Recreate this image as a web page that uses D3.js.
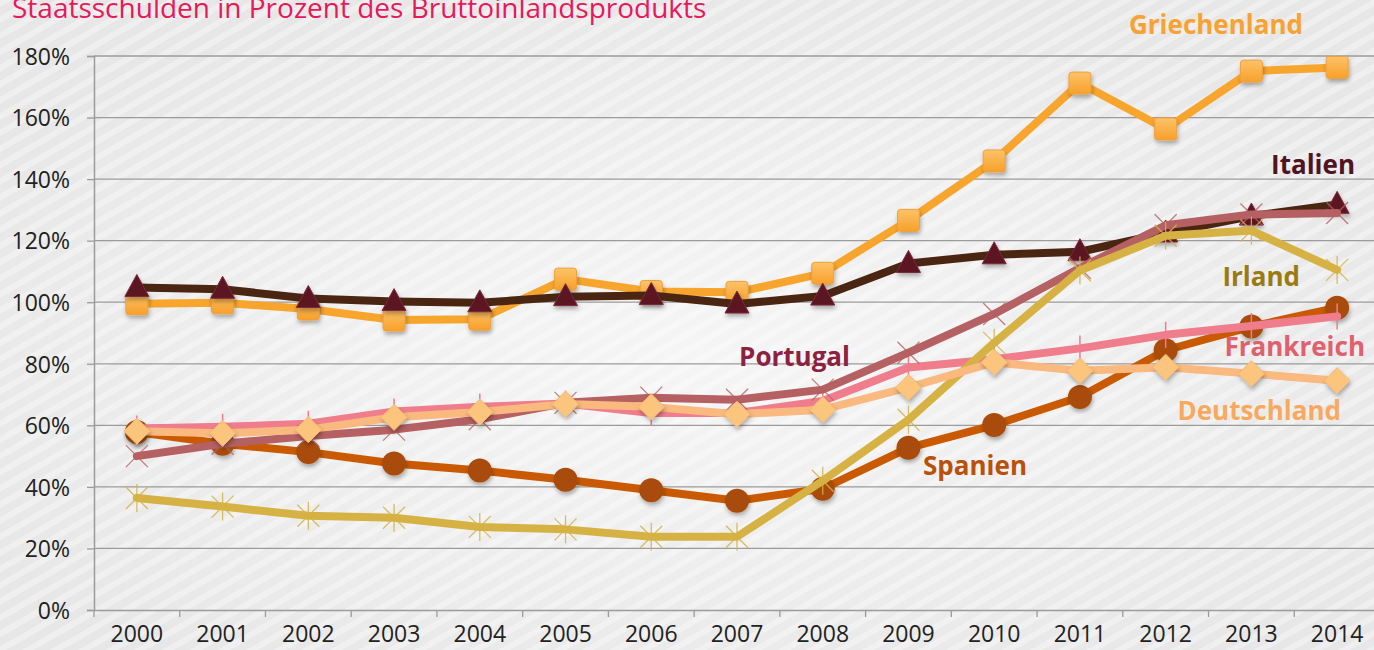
<!DOCTYPE html>
<html>
<head>
<meta charset="utf-8">
<script src="https://cdn.jsdelivr.net/npm/d3@7"></script>
<style>
  html, body { margin: 0; padding: 0; background: #e9e9e9; }
  svg { display: block; }
</style>
</head>
<body>
<svg id="chart" width="1374" height="650"></svg>
<script>
(function(){

var years = ["2000","2001","2002","2003","2004","2005","2006","2007","2008","2009","2010","2011","2012","2013","2014"];
var yTicks = [0, 20, 40, 60, 80, 100, 120, 140, 160, 180];

var griechenland = [99.5, 99.8, 97.8, 94.2, 94.5, 107.5, 103.5, 103.2, 109.4, 126.6, 145.9, 171.2, 156.3, 175.1, 176.3];
var italien      = [104.8, 104.2, 101.2, 100.2, 99.8, 101.8, 102.2, 99.4, 102.0, 112.6, 115.4, 116.4, 122.5, 128.0, 131.8];
var portugal     = [50.0, 54.0, 56.5, 58.6, 62.0, 67.3, 69.0, 68.3, 71.6, 83.6, 96.2, 111.1, 125.0, 128.5, 129.0];
var irland       = [36.4, 33.6, 30.6, 30.0, 27.0, 26.2, 23.8, 23.8, 42.0, 61.8, 86.8, 110.3, 121.6, 123.3, 110.5];
var spanien      = [57.8, 54.0, 51.3, 47.6, 45.3, 42.3, 38.9, 35.5, 39.4, 52.7, 60.1, 69.2, 84.4, 92.1, 98.2];
var frankreich   = [59.0, 59.5, 60.5, 64.5, 66.0, 67.1, 64.0, 64.0, 67.9, 78.8, 81.5, 85.0, 89.4, 92.3, 95.4];
var deutschland  = [58.1, 57.4, 58.6, 62.6, 64.3, 66.9, 66.0, 63.6, 65.1, 72.3, 80.5, 77.7, 78.9, 76.8, 74.5];

var series = [
	{ name: "Griechenland", values: griechenland, line: "#f8a52e", fill: "#fbb040", marker: "square" },
	{ name: "Italien", values: italien, line: "#4a2612", fill: "#5c1424", marker: "triangle" },
	{ name: "Spanien", values: spanien, line: "#c95a02", fill: "#a94b07", marker: "circle" },
	{ name: "Frankreich", values: frankreich, line: "#ef7d8c", fill: "#ef7d8c", marker: "plus" },
	{ name: "Portugal", values: portugal, line: "#b56062", fill: "#b56062", marker: "cross" },
	{ name: "Irland", values: irland, line: "#d6b244", fill: "#d6b244", marker: "star" },
	{ name: "Deutschland", values: deutschland, line: "#f9b97f", fill: "#fcc57e", marker: "diamond" }
];

var labels = [
	{ text: "Griechenland", x: 1303, y: 34, color: "#f8a233" },
	{ text: "Italien", x: 1355, y: 174, color: "#4f1420" },
	{ text: "Irland", x: 1300, y: 286, color: "#9a7a12" },
	{ text: "Portugal", x: 850, y: 366, color: "#8c2240" },
	{ text: "Frankreich", x: 1365, y: 356, color: "#e0606e" },
	{ text: "Deutschland", x: 1341, y: 420, color: "#f9a95e" },
	{ text: "Spanien", x: 1027, y: 475, color: "#b9510a" }
];

var svg = d3.select("#chart");
var W = 1374, H = 650;
var margin = { left: 94, top: 56, right: -6, bottom: 40 };

var defs = svg.append("defs");

var pat = defs.append("pattern")
	.attr("id", "stripes")
	.attr("patternUnits", "userSpaceOnUse")
	.attr("width", 14).attr("height", 14)
	.attr("patternTransform", "rotate(-30)");
pat.append("rect").attr("width", 14).attr("height", 14).attr("fill", "#e7e7e7");
pat.append("rect").attr("width", 14).attr("height", 6).attr("fill", "#efefef");

var glow = defs.append("radialGradient").attr("id", "glow")
	.attr("cx", "50%").attr("cy", "55%").attr("r", "60%");
glow.append("stop").attr("offset", "0%").attr("stop-color", "#ffffff").attr("stop-opacity", 0.6);
glow.append("stop").attr("offset", "100%").attr("stop-color", "#ffffff").attr("stop-opacity", 0);

var shadow = defs.append("filter").attr("id", "shadow")
	.attr("x", "-50%").attr("y", "-50%").attr("width", "200%").attr("height", "200%");
shadow.append("feDropShadow").attr("dx", 1).attr("dy", 3).attr("stdDeviation", 2)
	.attr("flood-color", "#000").attr("flood-opacity", 0.3);

var sqGrad = defs.append("linearGradient").attr("id", "sqGrad").attr("x1", 0).attr("y1", 0).attr("x2", 0).attr("y2", 1);
sqGrad.append("stop").attr("offset", "0%").attr("stop-color", "#fdc36a");
sqGrad.append("stop").attr("offset", "100%").attr("stop-color", "#f7a02a");

svg.append("rect").attr("width", W).attr("height", H).attr("fill", "url(#stripes)");
svg.append("rect").attr("width", W).attr("height", H).attr("fill", "url(#glow)");

var x = d3.scaleBand().domain(years).range([margin.left, W - margin.right]).padding(0);
var y = d3.scaleLinear().domain([0, 180]).range([H - margin.bottom, margin.top]);

// title (cut at the top edge as in the original slide)
svg.append("text")
	.attr("x", 12).attr("y", 18)
	.attr("font-family", "Open Sans, sans-serif")
	.attr("font-size", 28)
	.attr("fill", "#e8185a")
	.text("Staatsschulden in Prozent des Bruttoinlandsprodukts");

// gridlines
svg.append("g").selectAll("line").data(yTicks.slice(1)).enter().append("line")
	.attr("x1", margin.left).attr("x2", W)
	.attr("y1", function(d){ return y(d); }).attr("y2", function(d){ return y(d); })
	.attr("stroke", "#9b9b9b").attr("stroke-width", 1.3);

// y axis
var yAxis = svg.append("g")
	.attr("transform", "translate(" + margin.left + ",0)")
	.call(d3.axisLeft(y).tickValues(yTicks).tickSize(7).tickPadding(17).tickFormat(function(d){ return d + "%"; }));
yAxis.select(".domain").attr("stroke", "#9b9b9b").attr("stroke-width", 1.5);
yAxis.selectAll(".tick line").attr("stroke", "#9b9b9b").attr("stroke-width", 1.3);
yAxis.selectAll(".tick text")
	.attr("font-family", "Open Sans, sans-serif").attr("font-size", 23).attr("fill", "#222").attr("dy", "0.36em");

// x axis: labels centred in bands, ticks on band borders
var xAxis = svg.append("g")
	.attr("transform", "translate(0," + y(0) + ")")
	.call(d3.axisBottom(x).tickSize(0).tickPadding(20));
xAxis.select(".domain").attr("stroke", "#9b9b9b").attr("stroke-width", 1.5);
xAxis.selectAll(".tick text")
	.attr("font-family", "Open Sans, sans-serif").attr("font-size", 23).attr("fill", "#222").attr("dy", "0.5em");
xAxis.selectAll("line.border").data(years).enter().append("line")
	.attr("class", "border")
	.attr("x1", function(d){ return x(d); }).attr("x2", function(d){ return x(d); })
	.attr("y1", 0).attr("y2", 7)
	.attr("stroke", "#9b9b9b").attr("stroke-width", 1.3);

var cx = function(d, i){ return x(years[i]) + x.bandwidth() / 2; };

var line = d3.line()
	.x(function(d, i){ return x(years[i]) + x.bandwidth() / 2; })
	.y(function(d){ return y(d); });

function drawMarker(g, s) {
	var pts = g.selectAll("g.m").data(s.values).enter().append("g")
		.attr("class", "m")
		.attr("transform", function(d, i){ return "translate(" + cx(d, i) + "," + y(d) + ")"; })
		.attr("filter", s.marker === "star" || s.marker === "cross" || s.marker === "plus" ? null : "url(#shadow)");

	if (s.marker === "square") {
		pts.append("rect").attr("x", -11).attr("y", -11).attr("width", 22).attr("height", 22)
			.attr("rx", 3).attr("fill", "url(#sqGrad)").attr("stroke", "#f0a03a").attr("stroke-width", 1);
	} else if (s.marker === "triangle") {
		pts.append("path").attr("d", "M0,-13L12,9L-12,9Z").attr("fill", s.fill)
			.attr("stroke", "#7a2a3a").attr("stroke-width", 1);
	} else if (s.marker === "circle") {
		pts.append("circle").attr("r", 12).attr("fill", s.fill);
	} else if (s.marker === "diamond") {
		pts.append("path").attr("d", "M0,-13L13,0L0,13L-13,0Z").attr("fill", s.fill)
			.attr("stroke", "#f6b870").attr("stroke-width", 1);
	} else if (s.marker === "cross") {
		pts.append("path").attr("d", "M-11,-11L11,11M-11,11L11,-11")
			.attr("stroke", s.fill).attr("stroke-width", 1.3).attr("opacity", 0.8);
	} else if (s.marker === "plus") {
		pts.append("path").attr("d", "M0,-13L0,13")
			.attr("stroke", s.fill).attr("stroke-width", 1.5);
	} else if (s.marker === "star") {
		pts.append("path").attr("d", "M-11,-11L11,11M-11,11L11,-11M0,-14L0,14")
			.attr("stroke", s.fill).attr("stroke-width", 1.3).attr("opacity", 0.85);
	}
}

var plot = svg.append("g");
series.forEach(function(s){
	var g = plot.append("g").attr("class", "series");
	g.append("path").datum(s.values)
		.attr("d", line)
		.attr("fill", "none")
		.attr("stroke", s.line)
		.attr("stroke-width", 8)
		.attr("stroke-linejoin", "round")
		.attr("stroke-linecap", "round");
	drawMarker(g, s);
});

// series labels
svg.append("g").selectAll("text").data(labels).enter().append("text")
	.attr("x", function(d){ return d.x; })
	.attr("y", function(d){ return d.y; })
	.attr("text-anchor", "end")
	.attr("font-family", "Open Sans, sans-serif")
	.attr("font-weight", "bold")
	.attr("font-size", 26)
	.attr("fill", function(d){ return d.color; })
	.text(function(d){ return d.text; });

})();
</script>
</body>
</html>
